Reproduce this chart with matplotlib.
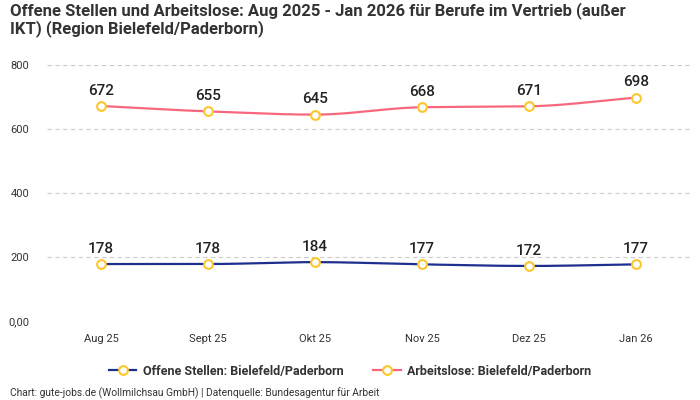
import numpy as np
import matplotlib
matplotlib.use("Agg")
import matplotlib.pyplot as plt
from matplotlib.lines import Line2D

categories = ["Aug 25", "Sept 25", "Okt 25", "Nov 25", "Dez 25", "Jan 26"]
offene_stellen = [178, 178, 184, 177, 172, 177]
arbeitslose = [672, 655, 645, 668, 671, 698]
y_ticks = [0, 200, 400, 600, 800]
y_tick_labels = ["0,00", "200", "400", "600", "800"]

title = "Offene Stellen und Arbeitslose: Aug 2025 - Jan 2026 für Berufe im Vertrieb (außer\nIKT) (Region Bielefeld/Paderborn)"
footer = "Chart: gute-jobs.de (Wollmilchsau GmbH) | Datenquelle: Bundesagentur für Arbeit"
label_os = "Offene Stellen: Bielefeld/Paderborn"
label_al = "Arbeitslose: Bielefeld/Paderborn"

plt.rcParams['font.family'] = ['Roboto', 'DejaVu Sans']

BLUE = "#1f2f8f"
PINK = "#f7687f"
YELLOW = "#fcc72c"
TEXT = "#333333"


def monotone(x, y, n=30):
    x = np.asarray(x, float)
    y = np.asarray(y, float)
    h = np.diff(x)
    d = np.diff(y) / h
    m = np.zeros_like(y)
    m[0] = d[0]
    m[-1] = d[-1]
    for i in range(1, len(y) - 1):
        if d[i - 1] * d[i] <= 0:
            m[i] = 0
        else:
            m[i] = 3 * (h[i - 1] + h[i]) / ((2 * h[i] + h[i - 1]) / d[i - 1] + (h[i] + 2 * h[i - 1]) / d[i])
    xs, ys = [], []
    for i in range(len(x) - 1):
        t = np.linspace(0, 1, n)
        h00 = 2 * t**3 - 3 * t**2 + 1
        h10 = t**3 - 2 * t**2 + t
        h01 = -2 * t**3 + 3 * t**2
        h11 = t**3 - t**2
        xs.append(x[i] + t * h[i])
        ys.append(h00 * y[i] + h10 * h[i] * m[i] + h01 * y[i + 1] + h11 * h[i] * m[i + 1])
    return np.concatenate(xs), np.concatenate(ys)


fig = plt.figure(figsize=(7, 4), dpi=100)
ax = fig.add_axes([47.5 / 700, 1 - 321 / 400, 642 / 700, 256 / 400])

MS = 6.3
MEW = 1.5
x = np.arange(len(categories))
for series, color in [(offene_stellen, BLUE), (arbeitslose, PINK)]:
    sx, sy = monotone(x, series)
    ax.plot(sx, sy, color=color, lw=1.6, zorder=3, solid_capstyle='round')
    ax.plot(x, series, ls='none', marker='o', ms=MS, mfc='white', mec=YELLOW, mew=MEW, zorder=4)
    for xi, v in zip(x, series):
        ax.annotate(str(v), (xi, v), xytext=(0, 6), textcoords='offset points',
                    ha='center', va='bottom', fontsize=11, color='#222222', fontweight='medium')

ax.set_xlim(-0.5, len(categories) - 0.5)
ax.set_ylim(0, 800)
ax.set_yticks(y_ticks)
ax.set_yticklabels(y_tick_labels)
ax.set_xticks(x)
ax.set_xticklabels(categories)
ax.tick_params(axis='both', length=0, labelsize=8, colors=TEXT)
ax.tick_params(axis='y', pad=13)
ax.tick_params(axis='x', pad=9)
ax.grid(axis='y', color='#cccccc', ls=(0, (4, 3)), lw=0.8)
ax.set_axisbelow(True)
for s in ax.spines.values():
    s.set_visible(False)

fig.text(10 / 700, 1 - 2 / 400, title, ha='left', va='top', fontsize=12,
         fontweight='bold', color=TEXT, linespacing=1.12)

handles = [
    Line2D([0], [0], color=BLUE, lw=1.6, marker='o', ms=MS, mfc='white', mec=YELLOW, mew=MEW),
    Line2D([0], [0], color=PINK, lw=1.6, marker='o', ms=MS, mfc='white', mec=YELLOW, mew=MEW),
]
fig.legend(handles, [label_os, label_al], loc='center', bbox_to_anchor=(0.5, 1 - 371 / 400),
           ncol=2, frameon=False, prop={'weight': 'bold', 'size': 9}, labelcolor=TEXT,
           handlelength=2.2, columnspacing=2.4, handletextpad=0.5)

fig.text(10 / 700, 1 - 393 / 400, footer, ha='left', va='center', fontsize=7.4, color=TEXT)

fig.savefig("out.png", dpi=100, facecolor='white')
